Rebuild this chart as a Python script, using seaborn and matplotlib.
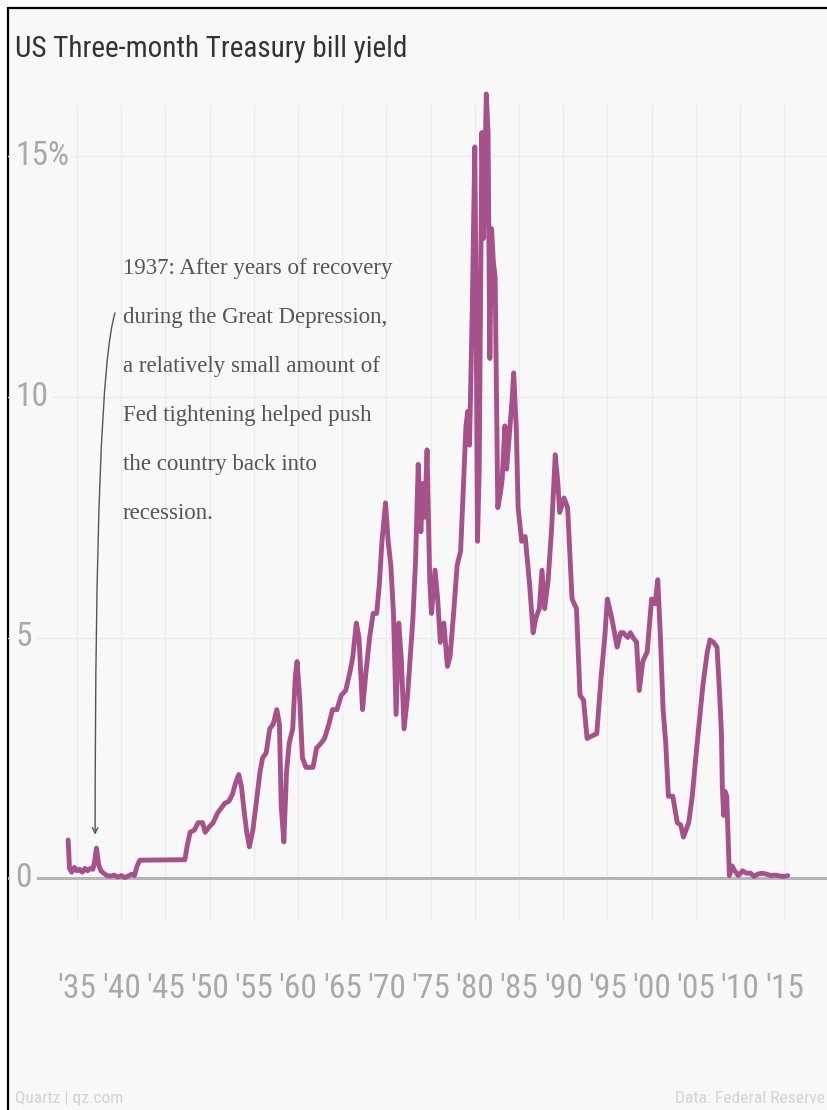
import matplotlib
matplotlib.use('Agg')
import matplotlib.pyplot as plt
import seaborn as sns
from matplotlib import font_manager
from matplotlib.patches import Rectangle

# data (year, 3-month T-bill yield in %)
years = [
    1934.0, 1934.15, 1934.4, 1934.7, 1935.0, 1935.3, 1935.6, 1935.9, 1936.2, 1936.5,
    1936.8, 1937.0, 1937.2, 1937.45, 1937.7, 1938.0, 1938.4, 1938.8, 1939.2, 1939.6,
    1940.0, 1940.4, 1940.8, 1941.2, 1941.5, 1941.8, 1942.1, 1947.2, 1947.5, 1947.8,
    1948.3, 1948.7, 1949.2, 1949.5, 1949.9, 1950.4, 1950.9, 1951.3, 1951.7, 1952.2,
    1952.6, 1952.9, 1953.3, 1953.6, 1953.9, 1954.2, 1954.5, 1954.9, 1955.3, 1955.7,
    1956.0, 1956.4, 1956.8, 1957.2, 1957.6, 1957.9, 1958.1, 1958.4, 1958.7, 1959.0,
    1959.4, 1959.7, 1959.9, 1960.2, 1960.5, 1960.9, 1961.3, 1961.7, 1962.1, 1962.6,
    1963.0, 1963.5, 1963.9, 1964.4, 1964.9, 1965.4, 1965.9, 1966.2, 1966.6, 1966.9,
    1967.3, 1967.7, 1968.1, 1968.5, 1968.9, 1969.2, 1969.5, 1969.9, 1970.2, 1970.5,
    1970.8, 1971.1, 1971.4, 1971.7, 1972.0, 1972.4, 1972.7, 1973.0, 1973.3, 1973.6,
    1973.9, 1974.1, 1974.35, 1974.6, 1974.9, 1975.1, 1975.5, 1975.8, 1976.1, 1976.5,
    1976.9, 1977.2, 1977.6, 1978.0, 1978.4, 1978.8, 1979.0, 1979.2, 1979.4, 1979.7,
    1980.0, 1980.15, 1980.3, 1980.5, 1980.8, 1981.0, 1981.3, 1981.5, 1981.7, 1981.9,
    1982.1, 1982.3, 1982.6, 1982.9, 1983.1, 1983.4, 1983.6, 1983.9, 1984.2, 1984.4,
    1984.7, 1984.9, 1985.3, 1985.7, 1986.2, 1986.6, 1986.9, 1987.3, 1987.6, 1987.9,
    1988.3, 1988.7, 1989.1, 1989.4, 1989.6, 1990.1, 1990.5, 1991.0, 1991.5, 1991.9,
    1992.3, 1992.7, 1993.2, 1993.8, 1994.3, 1994.7, 1995.0, 1995.5, 1996.1, 1996.5,
    1996.8, 1997.3, 1997.6, 1997.9, 1998.3, 1998.6, 1999.0, 1999.5, 2000.0, 2000.4,
    2000.7, 2001.0, 2001.3, 2001.6, 2001.9, 2002.4, 2002.9, 2003.3, 2003.6, 2004.2,
    2004.6, 2005.1, 2005.8, 2006.3, 2006.6, 2007.0, 2007.4, 2007.7, 2007.9, 2008.0,
    2008.15, 2008.3, 2008.5, 2008.8, 2009.1, 2009.4, 2009.8, 2010.3, 2010.7, 2011.2,
    2011.6, 2012.0, 2012.5, 2013.0, 2013.5, 2014.0, 2014.5, 2015.0, 2015.4,
]
yields = [
    0.79, 0.2, 0.12, 0.22, 0.15, 0.18, 0.12, 0.2, 0.15, 0.2,
    0.18, 0.35, 0.62, 0.28, 0.15, 0.1, 0.05, 0.04, 0.06, 0.02,
    0.05, 0.01, 0.04, 0.08, 0.05, 0.25, 0.37, 0.38, 0.7, 0.95,
    1.0, 1.15, 1.15, 0.95, 1.05, 1.15, 1.35, 1.45, 1.55, 1.6,
    1.75, 1.95, 2.15, 1.9, 1.4, 0.95, 0.65, 1.0, 1.6, 2.2,
    2.5, 2.6, 3.1, 3.2, 3.5, 3.2, 1.5, 0.75, 2.2, 2.8,
    3.1, 4.2, 4.5, 3.7, 2.5, 2.3, 2.3, 2.3, 2.7, 2.8,
    2.9, 3.2, 3.5, 3.5, 3.8, 3.9, 4.3, 4.6, 5.3, 5.0,
    3.5, 4.3, 5.0, 5.5, 5.5, 6.1, 7.0, 7.8, 7.0, 6.5,
    5.5, 3.4, 5.3, 4.5, 3.1, 3.8, 4.6, 5.4, 6.6, 8.6,
    7.2, 8.2, 7.5, 8.9, 6.2, 5.5, 6.4, 5.8, 4.9, 5.3,
    4.4, 4.6, 5.5, 6.5, 6.8, 8.5, 9.4, 9.7, 9.0, 11.7,
    15.2, 12.0, 7.0, 8.5, 15.5, 13.3, 16.3, 15.5, 10.8, 13.5,
    12.8, 12.5, 7.7, 8.0, 8.3, 9.4, 8.5, 9.2, 9.9, 10.5,
    9.3, 7.7, 7.0, 7.1, 6.1, 5.1, 5.4, 5.6, 6.4, 5.6,
    6.2, 7.3, 8.8, 8.2, 7.6, 7.9, 7.7, 5.8, 5.6, 3.8,
    3.7, 2.9, 2.95, 3.0, 4.2, 5.0, 5.8, 5.4, 4.8, 5.1,
    5.1, 5.0, 5.1, 5.0, 4.9, 3.9, 4.5, 4.7, 5.8, 5.7,
    6.2, 5.0, 3.5, 2.8, 1.7, 1.7, 1.15, 1.1, 0.85, 1.15,
    1.7, 2.7, 4.0, 4.7, 4.95, 4.9, 4.8, 3.8, 3.0, 1.9,
    1.3, 1.8, 1.7, 0.05, 0.25, 0.15, 0.05, 0.15, 0.1, 0.1,
    0.03, 0.08, 0.1, 0.08, 0.05, 0.06, 0.04, 0.03, 0.05,
]
tick_years = list(range(1935, 2016, 5))
tick_labels = ["'" + str(y)[2:] for y in tick_years]
y_levels = [0, 5, 10, 15]
y_labels = ['0', '5', '10', '15%']

title = 'US Three-month Treasury bill yield'
note = ('1937: After years of recovery\nduring the Great Depression,\n'
        'a relatively small amount of\nFed tightening helped push\n'
        'the country back into\nrecession.')

# pick narrow faces when they are installed
names = {f.name for f in font_manager.fontManager.ttflist}
if 'Roboto Condensed' in names:
    sans = dict(family='Roboto Condensed')
elif 'Liberation Sans Narrow' in names:
    sans = dict(family='Liberation Sans Narrow')
else:
    sans = dict(family='Roboto')
serif = dict(family='Liberation Serif')

sns.set_style('white')

W, H = 827, 1110
fig = plt.figure(figsize=(W / 100, H / 100), dpi=100)
fig.patch.set_facecolor('white')
fig.add_artist(Rectangle((8 / W, -0.02), 1.0, (H - 8) / H + 0.02, transform=fig.transFigure,
                         facecolor='#f8f8f8', edgecolor='black', linewidth=1.6, zorder=0))

# axes: 0% at y=878px, 48.1 px per point; 1935 at x=77px, 8.84 px per year
top, bottom, left = 105, 920, 8
ax = fig.add_axes([left / W, (H - bottom) / H, (W - left) / W, (bottom - top) / H])
ax.set_facecolor('none')
ax.set_xlim(1935 + (left - 77) / 8.84, 1935 + (W - 77) / 8.84)
ax.set_ylim((878 - bottom) / 48.1, (878 - top) / 48.1)
for s in ax.spines.values():
    s.set_visible(False)

ax.set_xticks(tick_years)
ax.set_xticklabels(tick_labels)
ax.set_yticks([])
ax.grid(axis='x', color='#ececec', linewidth=1)
ax.tick_params(axis='x', length=0, pad=38, labelsize=24, labelcolor='#a9a9a9')
for lab in ax.get_xticklabels():
    lab.set_fontfamily(sans['family'])

for lv, lb in zip(y_levels, y_labels):
    if lv == 0:
        ax.axhline(lv, color='#b5b5b5', linewidth=2.2, zorder=1)
    else:
        ax.axhline(lv, color='#ececec', linewidth=1, zorder=1)
    ax.text(0.009, lv, lb, transform=ax.get_yaxis_transform(), ha='left', va='center',
            fontsize=24, color='#a9a9a9', zorder=5,
            bbox=dict(boxstyle='square,pad=0.15', facecolor='#f8f8f8', edgecolor='none'),
            **sans)

sns.lineplot(x=years, y=yields, ax=ax, color='#a6518a', linewidth=3.5, estimator=None,
             zorder=3, clip_on=False)

ax.text(1940.2, 12.9, note, ha='left', va='top', fontsize=16.5, color='#555555',
        linespacing=2.75, zorder=4, **serif)
ax.annotate('', xy=(1937.05, 0.9), xytext=(1939.3, 11.75),
            arrowprops=dict(arrowstyle='->', color='#555555', lw=1,
                            connectionstyle='angle3,angleA=73,angleB=90',
                            shrinkA=0, shrinkB=0))

fig.text(15 / W, 1 - 57 / H, title, ha='left', va='baseline', fontsize=21, color='#333333',
         **sans)
fig.text(15 / W, 1 - 1103 / H, 'Quartz | qz.com', ha='left', va='baseline', fontsize=12.5,
         color='#d3d3d3', **sans)
fig.text(825 / W, 1 - 1103 / H, 'Data: Federal Reserve', ha='right', va='baseline',
         fontsize=12.5, color='#d3d3d3', **sans)

fig.savefig('out.png', dpi=100)
